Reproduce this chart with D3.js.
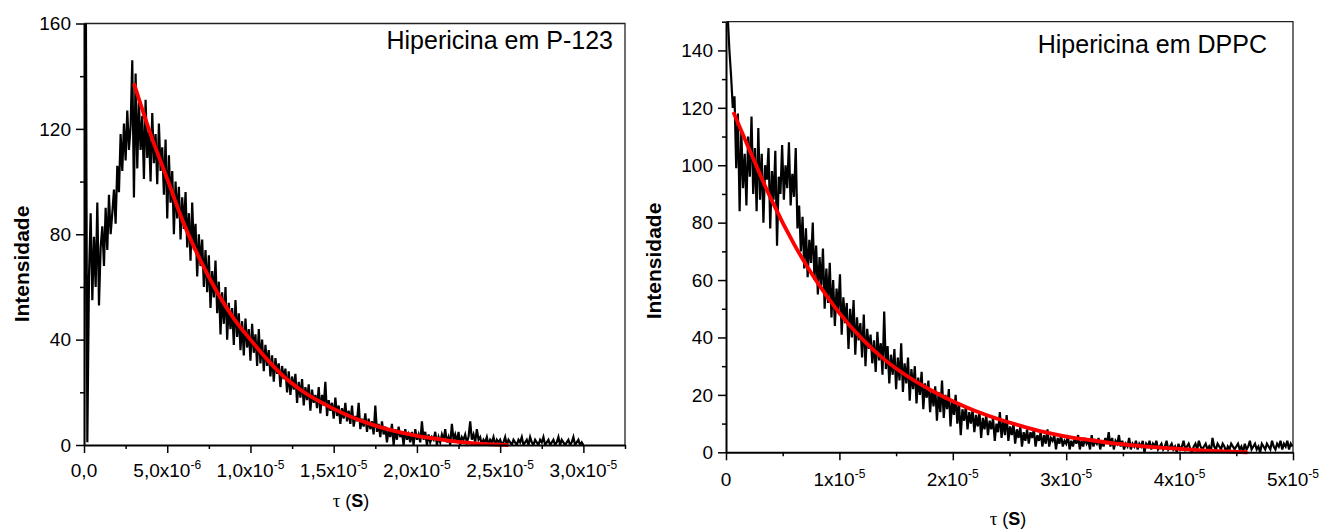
<!DOCTYPE html>
<html><head><meta charset="utf-8">
<script src="https://cdn.jsdelivr.net/npm/d3@7"></script>
<style>
body{margin:0;background:#fff;}
svg{display:block;}
text{font-family:"Liberation Sans", Arial, sans-serif;fill:#000;}
</style></head><body>
<svg id="chart" width="1322" height="531"></svg>
<script>
// ---------- DATA ----------
// Left panel: Hipericina em P-123 (sample step 0.1 µs)
const leftStep = 1e-7;
const leftIntensity = [
0,190,1,64,88,55,79,60,92,53,75,83,68,90,74,95,80,88,97,84,
106,96,118,104,122,108,127,112,121,146,94,141,105,130,112,125,101,131,109,119,
100,126,107,118,99,122,104,113,95,116,86,110,92,104,80,100,86,98,78,94,
82,96,75,88,70,92,74,84,64,80,68,78,60,74,58,72,52,66,56,70,
50,62,42,58,46,60,40,54,44,52,38,55,41,50,36,47,34,48,37,44,
32,46,35,42,30,44,31,40,28,38,30,36,26,34,24,33,27,31,22,30,
25,29,20,28,19,26,21,27,16,24,18,25,15,22,17,23,13,21,16,19,
14,22,12,19,15,24,11,17,13,16,10,18,11,15,8,14,10,16,9,13,
8,15,7,11,9,16,6,10,7,12,5,10,6,9,4,15,5,8,3,9,
4,7,1,6,3,8,0,6,2,7,3,5,0,6,2,4,1,5,0,6,
2,4,1,9,2,5,0,4,1,3,2,5,0,3,1,4,2,6,1,3,
0,8,2,4,1,5,0,3,2,4,1,3,9,2,4,1,6,2,3,0,
2,1,3,0,2,1,3,0,2,1,2,0,1,3,0,2,1,0,2,1,
0,2,1,3,0,1,2,0,3,1,0,2,1,0,2,1,3,0,1,2,
0,1,2,0,1,3,0,2,1,0,1,2,0,1,3,0,1,2,0,1,0
];
const leftFitTime = [3,4,5,6,7,8,9,10,11,12,13,14,15,16,17,18,19,20,21,22,23,24,25,25.5]; // µs
const leftFitValue = [137.3,118,101,84,70,58,48,40,32.5,26,21,17,13.7,10.8,8.4,6.4,4.8,3.5,2.5,1.6,0.9,0.4,0.1,0];

// Right panel: Hipericina em DPPC (sample step 0.15 µs)
const rightStep = 1.5e-7;
const rightIntensity = [
175,152,140,131,120,124,99,118,84,112,92,104,86,110,96,117,90,106,84,113,
88,104,80,100,95,106,78,98,88,105,72,96,90,107,88,100,92,108,86,97,
89,106,78,86,70,82,64,78,61,74,66,80,60,72,55,68,58,71,50,64,
52,66,47,60,44,57,49,62,41,54,45,52,36,50,40,53,34,47,39,45,
33,48,30,43,36,41,31,39,28,42,32,38,27,49,29,37,24,34,27,36,
22,33,25,38,21,31,24,33,18,29,22,30,17,26,20,28,15,24,19,25,
14,22,16,23,11,21,14,25,12,20,15,22,9,18,13,20,10,17,6,15,
11,16,8,14,10,15,7,13,9,14,5,12,8,13,6,11,8,12,4,10,
7,14,5,11,6,13,4,9,6,10,3,8,5,9,2,7,4,8,3,7,
5,8,2,6,4,7,2,6,3,8,2,5,4,6,1,5,3,6,2,4,
3,6,1,4,2,5,3,6,1,4,2,5,3,4,1,6,2,4,3,5,
1,4,2,5,3,7,2,5,1,4,3,6,2,4,1,3,2,5,1,3,
2,4,1,3,2,4,0,3,2,4,1,3,2,4,1,2,3,1,2,4,
1,2,3,1,2,0,3,1,2,4,1,2,3,1,0,2,3,1,4,2,
1,2,3,1,2,0,5,2,1,3,2,1,3,2,0,2,1,3,2,1,
2,3,1,2,0,3,1,2,4,1,2,3,1,2,0,3,2,1,3,2,
1,4,2,1,3,2,4,1,3,2,4,1,3,2
];
const rightFitTime = [0.65,2,4,6,8,10,12,14,16,18,20,22,24,26,28,30,32,34,36,38,40,42,44,46]; // µs
const rightFitValue = [118.5,106,88,72.5,59.5,48.5,39.5,32.2,26.5,21.8,17.8,14.4,11.6,9.2,7.1,5.5,4.3,3.2,2.4,1.7,1.2,0.7,0.3,0];

// Tick values and labels
const leftXMajor = [0,5e-6,1e-5,1.5e-5,2e-5,2.5e-5,3e-5];
const leftXMinor = [2.5e-6,7.5e-6,1.25e-5,1.75e-5,2.25e-5,2.75e-5,3.25e-5];
const leftXLabelBase = ["0,0","5,0x10","1,0x10","1,5x10","2,0x10","2,5x10","3,0x10"];
const leftXLabelSup  = ["","-6","-5","-5","-5","-5","-5"];
const leftYMajor = [0,40,80,120,160];
const leftYMinor = [20,60,100,140];
const leftYLabels = ["0","40","80","120","160"];

const rightXMajor = [0,1e-5,2e-5,3e-5,4e-5,5e-5];
const rightXMinor = [5e-6,1.5e-5,2.5e-5,3.5e-5,4.5e-5];
const rightXLabelBase = ["0","1x10","2x10","3x10","4x10","5x10"];
const rightXLabelSup  = ["","-5","-5","-5","-5","-5"];
const rightYMajor = [0,20,40,60,80,100,120,140];
const rightYMinor = [10,30,50,70,90,110,130,150];
const rightYLabels = ["0","20","40","60","80","100","120","140"];

const titles = ["Hipericina em P-123","Hipericina em DPPC"];
const yTitle = "Intensidade";

// ---------- DRAW ----------
const svg = d3.select("#chart");

function drawPanel(c){
  const x = d3.scaleLinear().domain(c.xDomain).range([c.left, c.right]);
  const y = d3.scaleLinear().domain(c.yDomain).range([c.bottom, c.top]);
  const g = svg.append("g");
  svg.append("clipPath").attr("id","clip"+c.id).append("rect")
    .attr("x",c.left).attr("y",c.top).attr("width",c.right-c.left).attr("height",c.bottom-c.top);

  // frame (top, right)
  g.append("path").attr("d",`M${c.left},${c.top}H${c.right}V${c.bottom}`)
    .attr("fill","none").attr("stroke","#222").attr("stroke-width",1.3);

  // data
  const pts = c.values.map((v,i)=>[i*c.step, v]);
  g.append("path").datum(pts).attr("clip-path",`url(#clip${c.id})`)
    .attr("d", d3.line().x(d=>x(d[0])).y(d=>y(d[1])))
    .attr("fill","none").attr("stroke","#000").attr("stroke-width",2.2).attr("stroke-linejoin","miter");

  // fit
  const fit = c.fitT.map((t,i)=>[t*1e-6, c.fitV[i]]);
  g.append("path").datum(fit)
    .attr("d", d3.line().curve(d3.curveMonotoneX).x(d=>x(d[0])).y(d=>y(d[1])))
    .attr("fill","none").attr("stroke","#ff0000").attr("stroke-width",3.8);

  // axes
  const gx = g.append("g").attr("transform",`translate(0,${c.bottom})`);
  gx.call(d3.axisBottom(x).tickValues(c.xMajor).tickSize(8).tickSizeOuter(0).tickFormat(""));
  gx.select(".domain").attr("stroke","#000").attr("stroke-width",2);
  gx.selectAll(".tick line").attr("stroke-width",1.5);
  const gxm = g.append("g").attr("transform",`translate(0,${c.bottom})`);
  gxm.call(d3.axisBottom(x).tickValues(c.xMinor).tickSize(4).tickSizeOuter(0).tickFormat(""));
  gxm.select(".domain").remove();
  gxm.selectAll(".tick line").attr("stroke-width",1.5);

  const gy = g.append("g").attr("transform",`translate(${c.left},0)`);
  gy.call(d3.axisLeft(y).tickValues(c.yMajor).tickSize(8).tickSizeOuter(0).tickFormat(""));
  gy.select(".domain").attr("stroke","#000").attr("stroke-width",2);
  gy.selectAll(".tick line").attr("stroke-width",1.5);
  const gym = g.append("g").attr("transform",`translate(${c.left},0)`);
  gym.call(d3.axisLeft(y).tickValues(c.yMinor).tickSize(4).tickSizeOuter(0).tickFormat(""));
  gym.select(".domain").remove();
  gym.selectAll(".tick line").attr("stroke-width",1.5);

  // x tick labels
  c.xMajor.forEach((v,i)=>{
    const t = g.append("text").attr("x",x(v)).attr("y",c.bottom+c.xLabelDy)
      .attr("text-anchor","middle").attr("font-size",c.tickFont);
    t.append("tspan").text(c.xBase[i]);
    if(c.xSup[i]) t.append("tspan").attr("dy",-8).attr("font-size",12).text(c.xSup[i]);
  });
  // y tick labels
  g.selectAll(".ylab").data(c.yMajor).join("text")
    .attr("x",c.left-13).attr("y",d=>y(d)).attr("dy","0.36em")
    .attr("text-anchor","end").attr("font-size",c.tickFont)
    .text((d,i)=>c.yLabels[i]);

  // title
  g.append("text").attr("x",c.titleX).attr("y",c.titleY).attr("text-anchor","end")
    .attr("font-size",25).text(c.title);

  // y title
  g.append("text").attr("transform",`translate(${c.yTitleX},${c.yTitleY}) rotate(-90)`)
    .attr("text-anchor","middle").attr("dy","0.36em").attr("font-weight","bold").attr("font-size",21)
    .text(yTitle);

  // x title
  const xt = g.append("text").attr("x",c.xTitleX).attr("y",c.xTitleY).attr("text-anchor","middle").attr("font-size",18);
  xt.append("tspan").attr("font-family","'Liberation Serif','DejaVu Serif',serif").attr("font-size",19).text("τ");
  xt.append("tspan").text(" (");
  xt.append("tspan").attr("font-weight","bold").text("S");
  xt.append("tspan").text(")");
}

drawPanel({id:"L", left:84, right:625, top:23.5, bottom:445,
  xDomain:[0,3.25e-5], yDomain:[0,160], values:leftIntensity, step:leftStep,
  fitT:leftFitTime, fitV:leftFitValue,
  xMajor:leftXMajor, xMinor:leftXMinor, xBase:leftXLabelBase, xSup:leftXLabelSup,
  yMajor:leftYMajor, yMinor:leftYMinor, yLabels:leftYLabels,
  tickFont:19, xLabelDy:32, title:titles[0], titleX:613, titleY:49,
  yTitleX:21, yTitleY:264, xTitleX:351, xTitleY:507});

drawPanel({id:"R", left:726, right:1293, top:21.7, bottom:452.3,
  xDomain:[0,5e-5], yDomain:[0,150], values:rightIntensity, step:rightStep,
  fitT:rightFitTime, fitV:rightFitValue,
  xMajor:rightXMajor, xMinor:rightXMinor, xBase:rightXLabelBase, xSup:rightXLabelSup,
  yMajor:rightYMajor, yMinor:rightYMinor, yLabels:rightYLabels,
  tickFont:19, xLabelDy:34, title:titles[1], titleX:1267, titleY:53,
  yTitleX:653, yTitleY:261, xTitleX:1008, xTitleY:525});
</script>
</body></html>
